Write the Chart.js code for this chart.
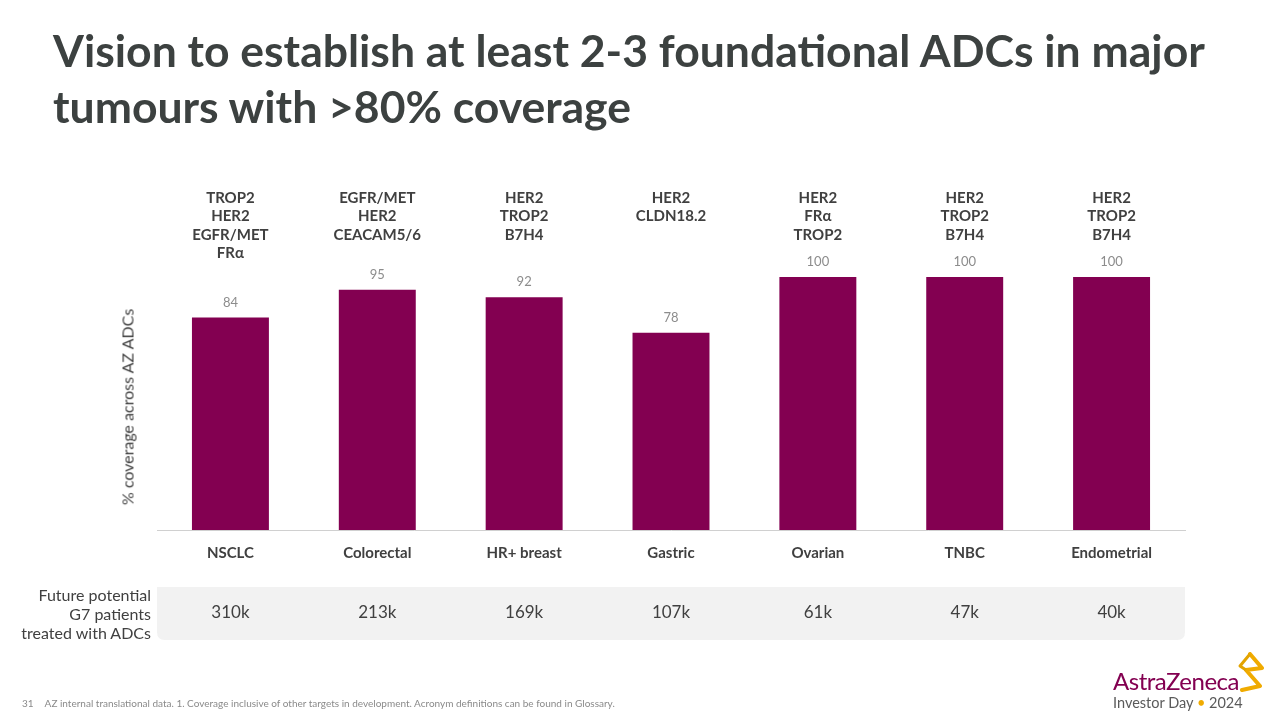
<!DOCTYPE html>
<html>
<head>
<meta charset="utf-8">
<script src="https://cdn.jsdelivr.net/npm/chart.js@4.4.0/dist/chart.umd.min.js"></script>
<style>
  html, body { margin:0; padding:0; background:#fff; }
  body { width:1280px; height:720px; position:relative; overflow:hidden; font-family: Lato, "Open Sans", sans-serif; }
  #c { position:absolute; left:0; top:0; }
  .title { position:absolute; left:53px; top:22px; font-family: Lato, sans-serif; font-weight:700; font-size:44.5px; line-height:56px; color:#3c4140; white-space:nowrap; }
  .ytitle { position:absolute; left:127px; top:407px; transform: translate(-50%,-50%) rotate(-90deg); white-space:nowrap; font-size:16px; color:#404040; font-family: Lato, sans-serif; }
  .rowlabel { position:absolute; right:1129px; top:585px; text-align:right; font-size:16px; line-height:19px; color:#404040; font-family: Lato, sans-serif; }
  .foot { position:absolute; left:22px; top:697px; font-size:10px; color:#8a8a8a; font-family: Lato, sans-serif; white-space:nowrap; }
  .foot span { margin-left:11px; }
  .logo { position:absolute; left:1113px; top:667px; font-family: Lato, sans-serif; }
  .logo .az { font-size:24px; color:#830051; letter-spacing:-0.5px; line-height:28px; }
  .logo .inv { font-size:14.5px; color:#5a5a5a; line-height:18px; margin-top:-1px; }
  .logo .dot { color:#f0ab00; }
</style>
</head>
<body>
<canvas id="c" width="1280" height="720"></canvas>
<div class="title">Vision to establish at least 2-3 foundational ADCs in major<br>tumours with &gt;80% coverage</div>
<div class="ytitle">% coverage across AZ ADCs</div>
<div class="rowlabel">Future potential<br>G7 patients<br>treated with ADCs</div>
<div class="foot">31<span>AZ internal translational data. 1. Coverage inclusive of other targets in development. Acronym definitions can be found in Glossary.</span></div>
<div class="logo"><div class="az">AstraZeneca</div><div class="inv">Investor Day <span class="dot">•</span> 2024</div></div>
<svg style="position:absolute;left:1234px;top:652px" width="32" height="40" viewBox="0 0 32 40">
  <path d="M16 2 L28 16 L12 18 L26 34 L8 38" fill="none" stroke="#f0ab00" stroke-width="4" stroke-linejoin="round" stroke-linecap="round"/>
  <path d="M16 2 L6 14 L12 18" fill="none" stroke="#e3a400" stroke-width="3" stroke-linejoin="round"/>
</svg>
<script>
const categories = ["NSCLC", "Colorectal", "HR+ breast", "Gastric", "Ovarian", "TNBC", "Endometrial"];
const coverage = [84, 95, 92, 78, 100, 100, 100];
const targets = [
  ["TROP2", "HER2", "EGFR/MET", "FRα"],
  ["EGFR/MET", "HER2", "CEACAM5/6"],
  ["HER2", "TROP2", "B7H4"],
  ["HER2", "CLDN18.2"],
  ["HER2", "FRα", "TROP2"],
  ["HER2", "TROP2", "B7H4"],
  ["HER2", "TROP2", "B7H4"]
];
const patients = ["310k", "213k", "169k", "107k", "61k", "47k", "40k"];

const annotate = {
  id: 'annotate',
  beforeDatasetsDraw(chart) {
    const ctx = chart.ctx, xs = chart.scales.x, ca = chart.chartArea;
    ctx.save();
    ctx.fillStyle = '#f2f2f2';
    const x0 = ca.left, x1 = ca.right, y0 = 587, y1 = 640, r = 8;
    ctx.beginPath();
    ctx.moveTo(x0, y0);
    ctx.lineTo(x1, y0);
    ctx.lineTo(x1, y1 - r);
    ctx.quadraticCurveTo(x1, y1, x1 - r, y1);
    ctx.lineTo(x0 + r, y1);
    ctx.quadraticCurveTo(x0, y1, x0, y1 - r);
    ctx.closePath();
    ctx.fill();
    ctx.fillStyle = '#404040';
    ctx.font = '17px Lato, sans-serif';
    ctx.textAlign = 'center';
    ctx.textBaseline = 'middle';
    patients.forEach((p, i) => ctx.fillText(p, xs.getPixelForValue(i), 613));
    ctx.restore();
  },
  afterDatasetsDraw(chart) {
    const ctx = chart.ctx, xs = chart.scales.x;
    const meta = chart.getDatasetMeta(0);
    ctx.save();
    ctx.textAlign = 'center';
    ctx.textBaseline = 'middle';
    meta.data.forEach((bar, i) => {
      ctx.fillStyle = '#8c8c8c';
      ctx.font = '13px Lato, sans-serif';
      ctx.fillText(String(coverage[i]), bar.x, bar.y - 15);
      ctx.fillStyle = '#404040';
      ctx.font = 'bold 15px Lato, sans-serif';
      targets[i].forEach((t, j) => ctx.fillText(t, xs.getPixelForValue(i), 198 + j * 18.5));
    });
    ctx.restore();
  }
};

new Chart(document.getElementById('c'), {
  type: 'bar',
  data: {
    labels: categories,
    datasets: [{
      data: coverage,
      backgroundColor: '#830051',
      borderWidth: 0,
      categoryPercentage: 1,
      barPercentage: 0.524
    }]
  },
  options: {
    responsive: false,
    animation: false,
    events: [],
    layout: { padding: { left: 157, right: 95, top: 277, bottom: 152 } },
    plugins: { legend: { display: false }, tooltip: { enabled: false } },
    scales: {
      x: {
        grid: { display: false },
        border: { display: true, color: '#d0d0d0', width: 1 },
        ticks: { color: '#404040', font: { family: 'Lato', size: 15, weight: 'bold' }, padding: 6, maxRotation: 0 }
      },
      y: {
        display: false,
        min: 0, max: 100
      }
    }
  },
  plugins: [annotate]
});
</script>
</body>
</html>
